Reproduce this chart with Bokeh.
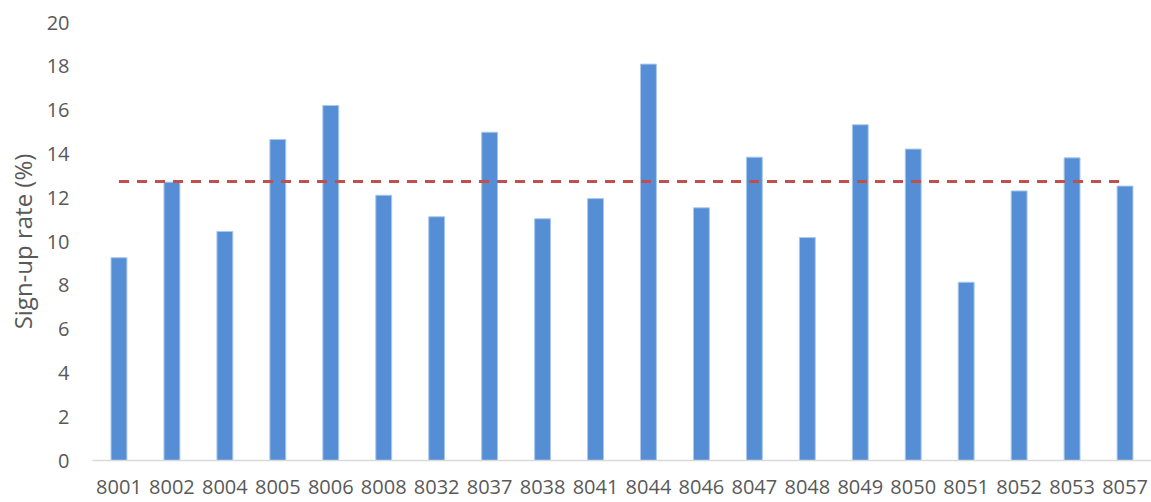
from bokeh.plotting import figure
from bokeh.models import FactorRange, Range1d, FixedTicker
from bokeh.embed import file_html
from bokeh.resources import INLINE

# Sign-up rate per centre code
centres = ["8001", "8002", "8004", "8005", "8006", "8008", "8032", "8037", "8038", "8041",
           "8044", "8046", "8047", "8048", "8049", "8050", "8051", "8052", "8053", "8057"]
signup_rate = [9.26, 12.71, 10.46, 14.66, 16.21, 12.11, 11.13, 14.99, 11.04, 11.96,
               18.10, 11.54, 13.85, 10.18, 15.33, 14.22, 8.14, 12.31, 13.82, 12.53]
average_rate = 12.74
y_ticks = [0, 2, 4, 6, 8, 10, 12, 14, 16, 18, 20]

FONT = "Open Sans"
TEXT = "#595959"

p = figure(
    width=1151, height=502,
    x_range=FactorRange(*centres, range_padding=0),
    y_range=Range1d(0, 20),
    output_backend="svg", toolbar_location=None,
    min_border_left=92, min_border_right=0,
    min_border_top=22, min_border_bottom=42,
)
p.outline_line_color = None
p.xgrid.visible = False
p.ygrid.visible = False

p.vbar(x=centres, top=signup_rate, width=0.3, bottom=0,
       fill_color="#558ED5", line_color="#A9C8EC", line_width=1)

p.line(x=[centres[0], centres[-1]], y=[average_rate, average_rate],
       line_color="#C0504D", line_width=3, line_dash="10 8")

# y axis: labels only
p.yaxis.ticker = FixedTicker(ticks=y_ticks)
p.yaxis.axis_line_color = None
p.yaxis.major_tick_line_color = None
p.yaxis.minor_tick_line_color = None
p.yaxis.major_tick_out = 0
p.yaxis.major_label_standoff = 23
p.yaxis.major_label_text_font = FONT
p.yaxis.major_label_text_font_size = "20px"
p.yaxis.major_label_text_color = TEXT
p.yaxis.axis_label = "Sign-up rate (%)"
p.yaxis.axis_label_text_font = FONT
p.yaxis.axis_label_text_font_size = "24px"
p.yaxis.axis_label_text_font_style = "normal"
p.yaxis.axis_label_text_color = TEXT
p.yaxis.axis_label_standoff = 5

# x axis: light baseline with centre codes
p.xaxis.axis_line_color = "#D9D9D9"
p.xaxis.axis_line_width = 1.5
p.xaxis.major_tick_line_color = None
p.xaxis.minor_tick_line_color = None
p.xaxis.major_tick_out = 0
p.xaxis.major_label_standoff = 19
p.xaxis.major_label_text_font = FONT
p.xaxis.major_label_text_font_size = "20px"
p.xaxis.major_label_text_color = TEXT

open("out.html", "w").write(file_html(p, INLINE))
